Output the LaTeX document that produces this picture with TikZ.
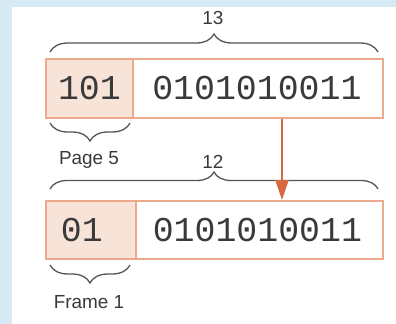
\documentclass[tikz,border=0pt]{standalone}
\usepackage{fontspec}
\setmainfont{Liberation Sans}
\newfontfamily\monofnt{Liberation Mono}
\usetikzlibrary{decorations.pathreplacing,arrows.meta}
\definecolor{bgblue}{HTML}{D6EAF6}
\definecolor{boxline}{HTML}{EBAA8C}
\definecolor{boxfill}{HTML}{F8E3D8}
\definecolor{arrowcol}{HTML}{D6693F}
\definecolor{bracecol}{HTML}{555555}
\definecolor{txtcol}{HTML}{3A3A3A}
\tikzset{
  cell/.style={draw=boxline, line width=1.8bp, inner sep=0pt, anchor=north west},
  pagecell/.style={cell, fill=boxfill},
  bits/.style={font=\monofnt\fontsize{35}{38}\selectfont, text=txtcol},
  lbl/.style={font=\fontsize{19}{22}\selectfont, text=txtcol, inner sep=0pt},
  bracestyle/.style={draw=bracecol, line width=1.3bp, decorate},
  mapping/.style={draw=arrowcol, line width=2.2bp, -{Triangle[length=20bp,width=13bp]}}
}
\begin{document}
\begin{tikzpicture}[x=1bp,y=-1bp]
\useasboundingbox (0,0) rectangle (396,324);
\fill[bgblue] (0,0) rectangle (396,324);
\fill[white] (12,7) rectangle (396,324);
% top box
\node[pagecell, minimum width=87bp, minimum height=59bp] (p1) at (45,58) {};
\node[cell, minimum width=250bp, minimum height=59bp] (o1) at (132,58) {};
\node[bits] (t1) at (p1.center) {101};
\node[bits, xshift=-1bp] (u1) at (o1.center) {0101010011};
% bottom box
\node[pagecell, minimum width=90bp, minimum height=58bp] (p2) at (45,200) {};
\node[cell, minimum width=247bp, minimum height=58bp] (o2) at (135,200) {};
\node[bits, xshift=-9bp] (t2) at (p2.center) {01};
\node[bits, xshift=-2bp] (u2) at (o2.center) {0101010011};
% braces
\coordinate (b1s) at (50,52);
\coordinate (b1e) at (378,52);
\draw[bracestyle, decoration={brace, amplitude=18bp}] (b1s) -- (b1e);
\node[lbl] (n13) at (213,18) {13};
\coordinate (b2s) at (50,123);
\coordinate (b2e) at (130,123);
\draw[bracestyle, decoration={brace, mirror, amplitude=18bp}] (b2s) -- (b2e);
\node[lbl] (pg) at (89,160) {Page 5};
\coordinate (b3s) at (50,189);
\coordinate (b3e) at (378,189);
\draw[bracestyle, decoration={brace, amplitude=17bp}] (b3s) -- (b3e);
\node[lbl] (n12) at (213,162) {12};
\coordinate (b4s) at (50,265);
\coordinate (b4e) at (130,265);
\draw[bracestyle, decoration={brace, mirror, amplitude=18bp}] (b4s) -- (b4e);
\node[lbl] (fr) at (89,302) {Frame 1};
% arrow
\draw[mapping] (o1.south -| 282,0) -- (o2.north -| 282,0);
\end{tikzpicture}
\end{document}
